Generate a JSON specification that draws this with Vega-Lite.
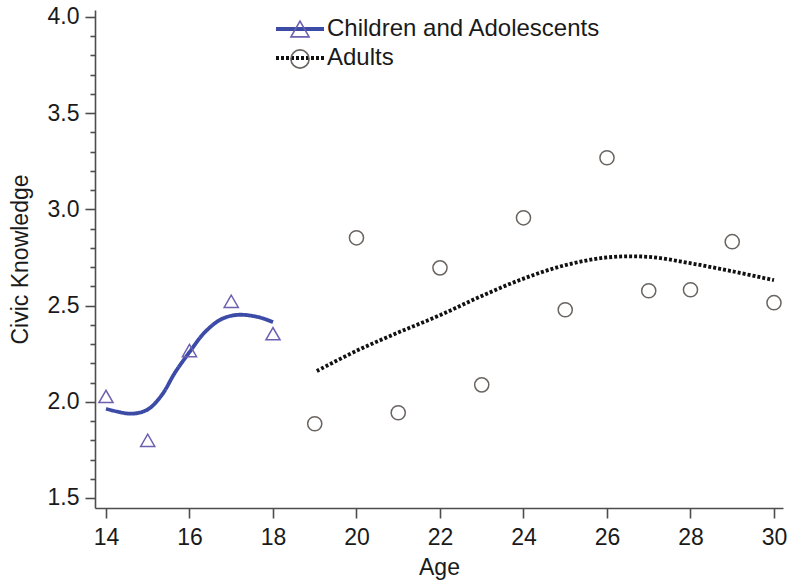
{
  "$schema": "https://vega.github.io/schema/vega-lite/v6.json",
  "width": 688,
  "height": 498,
  "autosize": "none",
  "padding": {"left": 95, "top": 10, "right": 6, "bottom": 75},
  "background": "white",
  "datasets": {
    "obs": [
      {"age": 14, "knowledge": 2.028, "group": "Children and Adolescents"},
      {"age": 15, "knowledge": 1.80, "group": "Children and Adolescents"},
      {"age": 16, "knowledge": 2.266, "group": "Children and Adolescents"},
      {"age": 17, "knowledge": 2.522, "group": "Children and Adolescents"},
      {"age": 18, "knowledge": 2.354, "group": "Children and Adolescents"},
      {"age": 19, "knowledge": 1.886, "group": "Adults"},
      {"age": 20, "knowledge": 2.852, "group": "Adults"},
      {"age": 21, "knowledge": 1.943, "group": "Adults"},
      {"age": 22, "knowledge": 2.696, "group": "Adults"},
      {"age": 23, "knowledge": 2.088, "group": "Adults"},
      {"age": 24, "knowledge": 2.956, "group": "Adults"},
      {"age": 25, "knowledge": 2.478, "group": "Adults"},
      {"age": 26, "knowledge": 3.268, "group": "Adults"},
      {"age": 27, "knowledge": 2.577, "group": "Adults"},
      {"age": 28, "knowledge": 2.582, "group": "Adults"},
      {"age": 29, "knowledge": 2.832, "group": "Adults"},
      {"age": 30, "knowledge": 2.515, "group": "Adults"}
    ],
    "fit": [
      {"age": 14, "knowledge": 1.964, "group": "Children and Adolescents"},
      {"age": 14.6, "knowledge": 1.938, "group": "Children and Adolescents"},
      {"age": 15, "knowledge": 1.96, "group": "Children and Adolescents"},
      {"age": 15.33, "knowledge": 2.033, "group": "Children and Adolescents"},
      {"age": 15.66, "knowledge": 2.154, "group": "Children and Adolescents"},
      {"age": 16, "knowledge": 2.258, "group": "Children and Adolescents"},
      {"age": 16.37, "knowledge": 2.362, "group": "Children and Adolescents"},
      {"age": 16.77, "knowledge": 2.43, "group": "Children and Adolescents"},
      {"age": 17.17, "knowledge": 2.452, "group": "Children and Adolescents"},
      {"age": 17.65, "knowledge": 2.44, "group": "Children and Adolescents"},
      {"age": 18, "knowledge": 2.414, "group": "Children and Adolescents"},
      {"age": 19.05, "knowledge": 2.16, "group": "Adults"},
      {"age": 20, "knowledge": 2.265, "group": "Adults"},
      {"age": 21, "knowledge": 2.36, "group": "Adults"},
      {"age": 22, "knowledge": 2.45, "group": "Adults"},
      {"age": 23, "knowledge": 2.55, "group": "Adults"},
      {"age": 24, "knowledge": 2.64, "group": "Adults"},
      {"age": 25, "knowledge": 2.71, "group": "Adults"},
      {"age": 26, "knowledge": 2.75, "group": "Adults"},
      {"age": 27, "knowledge": 2.753, "group": "Adults"},
      {"age": 28, "knowledge": 2.72, "group": "Adults"},
      {"age": 29, "knowledge": 2.678, "group": "Adults"},
      {"age": 30, "knowledge": 2.632, "group": "Adults"}
    ]
  },
  "config": {
    "view": {"stroke": null},
    "font": "Liberation Sans",
    "axis": {
      "grid": false,
      "labelFont": "Liberation Sans",
      "titleFont": "Liberation Sans",
      "labelFontSize": 23,
      "titleFontSize": 23,
      "titleFontWeight": "normal",
      "labelColor": "#1a1a1a",
      "titleColor": "#1a1a1a",
      "domainColor": "#4d4d4d",
      "tickColor": "#4d4d4d",
      "domainWidth": 1.6,
      "tickWidth": 1.6
    },
    "legend": {
      "labelFont": "Liberation Sans",
      "labelFontSize": 24,
      "labelColor": "#1a1a1a"
    }
  },
  "resolve": {"axis": {"y": "independent"}},
  "layer": [
    {
      "data": {"name": "fit"},
      "mark": {"type": "line", "interpolate": "catmull-rom", "strokeWidth": 3.8, "strokeCap": "butt"},
      "encoding": {
        "x": {
          "field": "age", "type": "quantitative",
          "scale": {"domain": [13.737, 30.216], "nice": false, "zero": false},
          "axis": {
            "title": "Age",
            "values": [14, 16, 18, 20, 22, 24, 26, 28, 30],
            "tickSize": 10,
            "labelPadding": 8,
            "titlePadding": 7,
            "labelFlush": false
          }
        },
        "y": {
          "field": "knowledge", "type": "quantitative",
          "scale": {"domain": [1.448, 4.036], "nice": false, "zero": false},
          "axis": {
            "orient": "left",
            "title": "Civic Knowledge",
            "values": [1.5, 2.0, 2.5, 3.0, 3.5, 4.0],
            "format": ".1f",
            "tickSize": 10,
            "labelPadding": 6,
            "labelOverlap": false,
            "labelFlush": false,
            "titleX": -75,
            "titleY": 249,
            "titleAngle": 270,
            "titleAlign": "center",
            "titleBaseline": "middle"
          }
        },
        "stroke": {
          "field": "group", "type": "nominal",
          "sort": "descending",
          "scale": {"range": ["#3b4ba6", "#111111"]},
          "legend": {
            "orient": "none",
            "legendX": 193,
            "legendY": 7,
            "title": null,
            "symbolType": "M-2.4,0H2.4",
            "symbolSize": 400,
            "symbolStrokeWidth": 3.8,
            "labelOffset": 15,
            "rowPadding": 5,
            "labelLimit": 500
          }
        },
        "strokeDash": {
          "field": "group", "type": "nominal",
          "sort": "descending",
          "scale": {"range": [[1, 0], [3, 2]]}
        }
      }
    },
    {
      "data": {"name": "obs"},
      "mark": {"type": "point", "filled": false, "strokeWidth": 1.5, "size": 200, "opacity": 1},
      "encoding": {
        "x": {"field": "age", "type": "quantitative"},
        "y": {
          "field": "knowledge", "type": "quantitative",
          "axis": {
            "orient": "left",
            "title": null,
            "values": [1.6, 1.7, 1.8, 1.9, 2.1, 2.2, 2.3, 2.4, 2.6, 2.7, 2.8, 2.9, 3.1, 3.2, 3.3, 3.4, 3.6, 3.7, 3.8, 3.9],
            "labels": false,
            "domain": false,
            "tickSize": 5
          }
        },
        "color": {
          "field": "group", "type": "nominal",
          "sort": "descending",
          "scale": {"range": ["#6e5fb0", "#6a6460"]},
          "legend": {
            "orient": "none",
            "legendX": 193,
            "legendY": 7,
            "title": null,
            "symbolSize": 330,
            "symbolStrokeWidth": 1.6,
            "labelExpr": "''",
            "labelOffset": 15,
            "rowPadding": 5
          }
        },
        "shape": {
          "field": "group", "type": "nominal",
          "sort": "descending",
          "scale": {"range": ["triangle-up", "circle"]}
        }
      }
    }
  ]
}
